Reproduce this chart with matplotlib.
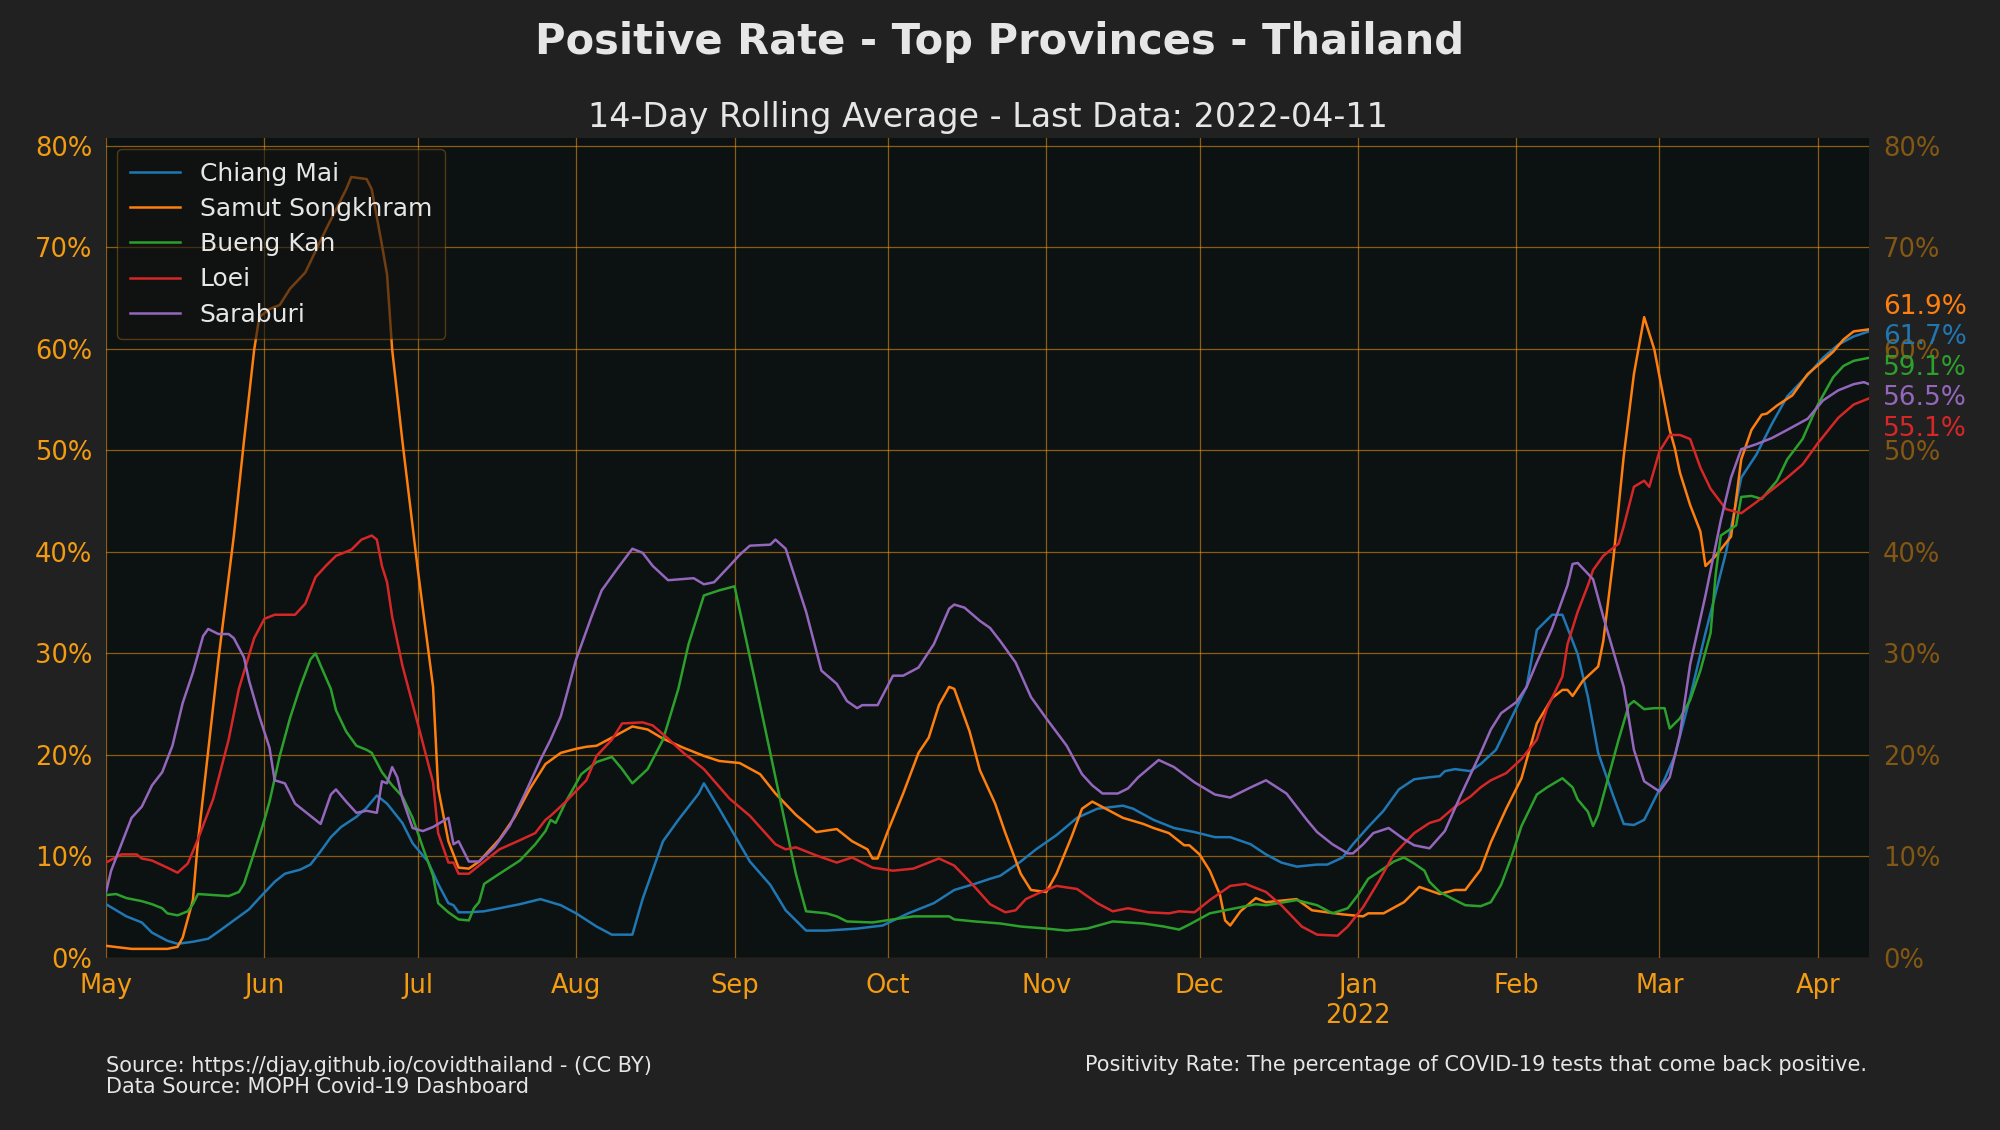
import numpy as np
import matplotlib
matplotlib.use("Agg")
import matplotlib.pyplot as plt
import matplotlib.transforms as mtransforms

# ---------------- data (day offsets from 2021-05-01, values in %) ----------------
start_date = "2021-05-01"
end_date = "2022-04-11"

chiang_mai_days = [0, 4, 7, 9, 12, 14, 17, 20, 22, 25, 28, 30, 33, 35, 38, 40, 42, 44, 46, 49, 51, 53, 55, 58, 60, 63, 65, 67, 68, 69, 71, 74, 77, 81, 85, 89, 92, 96, 99, 103, 105, 109, 112, 116, 117, 120, 123, 126, 130, 133, 137, 141, 147, 152, 157, 162, 166, 170, 173, 175, 179, 182, 186, 190, 194, 199, 201, 205, 209, 213, 217, 220, 224, 227, 230, 233, 237, 239, 242, 244, 247, 250, 253, 256, 259, 261, 262, 264, 267, 269, 272, 275, 278, 280, 283, 285, 288, 290, 292, 295, 297, 299, 301, 305, 307, 310, 313, 317, 320, 323, 326, 329, 333, 336, 339, 342, 345]
chiang_mai = [5.3, 4.1, 3.5, 2.5, 1.7, 1.4, 1.6, 1.9, 2.6, 3.7, 4.8, 5.9, 7.5, 8.3, 8.7, 9.2, 10.5, 11.9, 12.9, 13.9, 14.8, 16.0, 15.2, 13.3, 11.3, 9.5, 7.3, 5.4, 5.2, 4.5, 4.5, 4.6, 4.9, 5.3, 5.8, 5.2, 4.4, 3.1, 2.3, 2.3, 5.8, 11.5, 13.6, 16.2, 17.2, 14.7, 12.1, 9.5, 7.2, 4.7, 2.7, 2.7, 2.9, 3.2, 4.4, 5.4, 6.7, 7.3, 7.8, 8.1, 9.5, 10.7, 12.1, 13.8, 14.7, 15.0, 14.7, 13.6, 12.8, 12.4, 11.9, 11.9, 11.2, 10.2, 9.4, 9.0, 9.2, 9.2, 9.9, 11.2, 12.9, 14.5, 16.6, 17.6, 17.8, 17.9, 18.4, 18.6, 18.4, 19.1, 20.5, 23.6, 26.7, 32.3, 33.8, 33.8, 29.9, 25.7, 20.2, 15.9, 13.2, 13.1, 13.6, 17.6, 19.9, 25.7, 32.0, 39.9, 47.3, 49.6, 52.6, 55.3, 57.4, 59.1, 60.4, 61.2, 61.7]

samut_songkhram_days = [0, 5, 12, 14, 15, 17, 18, 20, 22, 25, 27, 29, 30, 32, 34, 36, 39, 41, 43, 45, 47, 48, 51, 52, 54, 55, 56, 58, 61, 64, 65, 67, 69, 71, 73, 77, 80, 83, 86, 89, 92, 94, 96, 99, 103, 106, 109, 113, 117, 120, 124, 128, 131, 135, 139, 143, 146, 149, 150, 151, 153, 156, 159, 161, 163, 165, 166, 169, 171, 174, 176, 179, 181, 184, 186, 189, 191, 193, 196, 199, 203, 205, 208, 211, 212, 214, 216, 218, 219, 220, 222, 225, 227, 231, 233, 236, 239, 242, 246, 247, 250, 254, 257, 261, 264, 266, 269, 271, 274, 277, 280, 283, 285, 286, 287, 289, 292, 293, 295, 297, 299, 301, 303, 306, 307, 308, 310, 312, 313, 315, 318, 319, 320, 322, 324, 325, 327, 330, 333, 336, 338, 340, 342, 345]
samut_songkhram = [1.2, 0.9, 0.9, 1.1, 2.0, 5.7, 11.5, 20.4, 29.4, 41.5, 50.9, 59.9, 63.1, 63.9, 64.3, 65.9, 67.5, 69.6, 71.7, 73.7, 75.7, 76.9, 76.7, 75.7, 70.2, 67.3, 59.9, 50.9, 38.3, 26.7, 16.7, 11.5, 8.9, 8.8, 9.5, 11.7, 13.9, 16.7, 19.1, 20.2, 20.6, 20.8, 20.9, 21.7, 22.8, 22.5, 21.6, 20.7, 19.9, 19.4, 19.2, 18.1, 16.2, 14.1, 12.4, 12.7, 11.5, 10.7, 9.8, 9.8, 12.5, 16.2, 20.2, 21.7, 24.9, 26.7, 26.5, 22.3, 18.5, 15.2, 12.3, 8.3, 6.7, 6.5, 8.3, 12.0, 14.7, 15.4, 14.6, 13.8, 13.2, 12.8, 12.3, 11.1, 11.1, 10.2, 8.6, 6.2, 3.7, 3.2, 4.6, 5.9, 5.5, 5.7, 5.8, 4.7, 4.5, 4.3, 4.1, 4.4, 4.4, 5.5, 7.0, 6.3, 6.7, 6.7, 8.7, 11.4, 14.7, 17.7, 23.1, 25.6, 26.4, 26.4, 25.8, 27.3, 28.7, 31.2, 39.4, 49.4, 57.5, 63.1, 59.9, 52.0, 50.2, 47.8, 44.6, 42.0, 38.6, 39.6, 41.5, 45.2, 49.1, 52.0, 53.5, 53.6, 54.4, 55.4, 57.5, 58.8, 59.7, 60.9, 61.7, 61.9]

bueng_kan_days = [0, 2, 4, 7, 9, 11, 12, 14, 16, 17, 18, 21, 24, 26, 27, 29, 31, 32, 34, 36, 38, 40, 41, 42, 44, 45, 47, 49, 51, 52, 54, 56, 58, 60, 62, 64, 65, 67, 69, 71, 72, 73, 74, 77, 81, 84, 86, 87, 88, 90, 93, 96, 99, 101, 103, 106, 109, 112, 114, 117, 120, 123, 127, 131, 135, 137, 141, 143, 145, 150, 154, 158, 165, 166, 170, 175, 179, 184, 188, 192, 197, 203, 207, 210, 212, 216, 221, 225, 227, 233, 237, 240, 243, 245, 247, 250, 252, 254, 256, 258, 259, 261, 264, 266, 269, 271, 273, 275, 277, 280, 282, 285, 287, 288, 290, 291, 292, 294, 296, 298, 299, 301, 303, 305, 306, 308, 310, 312, 314, 315, 316, 319, 320, 322, 324, 327, 329, 332, 335, 338, 340, 342, 345]
bueng_kan = [6.2, 6.3, 5.9, 5.6, 5.3, 4.9, 4.4, 4.2, 4.6, 5.3, 6.3, 6.2, 6.1, 6.5, 7.3, 10.4, 13.6, 15.4, 19.9, 23.6, 26.7, 29.4, 30.0, 28.8, 26.5, 24.4, 22.3, 20.9, 20.5, 20.2, 18.3, 17.0, 15.9, 13.8, 10.9, 8.1, 5.4, 4.5, 3.8, 3.7, 4.9, 5.5, 7.3, 8.3, 9.6, 11.2, 12.5, 13.6, 13.3, 15.4, 18.1, 19.3, 19.8, 18.6, 17.2, 18.6, 21.5, 26.5, 30.9, 35.7, 36.2, 36.6, 27.3, 17.8, 8.3, 4.6, 4.4, 4.1, 3.6, 3.5, 3.8, 4.1, 4.1, 3.8, 3.6, 3.4, 3.1, 2.9, 2.7, 2.9, 3.6, 3.4, 3.1, 2.8, 3.3, 4.4, 4.9, 5.3, 5.2, 5.7, 5.2, 4.4, 4.9, 6.2, 7.8, 8.8, 9.5, 9.9, 9.3, 8.6, 7.5, 6.5, 5.7, 5.2, 5.1, 5.5, 7.2, 9.9, 13.0, 16.1, 16.8, 17.7, 16.8, 15.6, 14.4, 13.0, 14.1, 17.8, 21.5, 24.9, 25.3, 24.5, 24.6, 24.6, 22.6, 23.6, 25.4, 28.3, 32.0, 37.8, 41.6, 42.6, 45.4, 45.5, 45.2, 47.0, 49.1, 51.1, 54.5, 57.2, 58.3, 58.8, 59.1]

loei_days = [0, 3, 6, 7, 9, 12, 14, 16, 18, 21, 24, 26, 29, 31, 33, 37, 39, 41, 43, 45, 48, 50, 52, 53, 54, 55, 56, 58, 61, 64, 65, 67, 68, 69, 71, 73, 77, 81, 84, 86, 87, 90, 94, 96, 99, 101, 105, 107, 110, 113, 117, 122, 126, 131, 133, 135, 139, 143, 146, 150, 154, 158, 163, 166, 170, 173, 176, 178, 180, 183, 186, 190, 194, 197, 200, 204, 208, 210, 213, 216, 220, 223, 227, 230, 234, 237, 241, 243, 246, 249, 252, 256, 259, 261, 264, 267, 269, 271, 274, 277, 280, 282, 285, 286, 288, 290, 291, 293, 296, 297, 299, 301, 302, 304, 306, 308, 310, 312, 314, 317, 320, 323, 325, 329, 332, 335, 339, 342, 345]
loei = [9.4, 10.2, 10.2, 9.8, 9.6, 8.9, 8.4, 9.3, 11.7, 15.7, 21.5, 26.5, 31.5, 33.4, 33.8, 33.8, 34.9, 37.5, 38.6, 39.6, 40.2, 41.2, 41.6, 41.2, 38.6, 37.0, 33.6, 28.8, 23.1, 17.3, 12.3, 9.4, 9.4, 8.3, 8.3, 9.1, 10.7, 11.6, 12.3, 13.6, 14.0, 15.4, 17.5, 19.9, 21.5, 23.1, 23.2, 22.9, 21.6, 20.2, 18.6, 15.7, 14.0, 11.2, 10.7, 10.9, 10.1, 9.4, 9.9, 8.9, 8.6, 8.8, 9.8, 9.1, 7.0, 5.3, 4.5, 4.7, 5.8, 6.5, 7.1, 6.8, 5.4, 4.6, 4.9, 4.5, 4.4, 4.6, 4.5, 5.7, 7.1, 7.3, 6.5, 5.2, 3.1, 2.3, 2.2, 3.1, 5.0, 7.5, 10.2, 12.3, 13.3, 13.6, 14.9, 15.9, 16.8, 17.5, 18.2, 19.6, 21.5, 24.6, 27.7, 30.9, 34.1, 36.7, 38.2, 39.6, 40.8, 42.5, 46.4, 47.0, 46.4, 49.9, 51.5, 51.5, 51.1, 48.3, 46.2, 44.2, 43.8, 44.9, 45.7, 47.3, 48.6, 50.7, 53.2, 54.5, 55.1]

saraburi_days = [0, 1, 3, 5, 7, 9, 11, 13, 15, 17, 19, 20, 22, 24, 25, 27, 28, 30, 32, 33, 35, 37, 40, 42, 44, 45, 47, 49, 51, 53, 54, 55, 56, 57, 58, 60, 62, 64, 67, 68, 69, 71, 73, 76, 79, 82, 85, 87, 89, 92, 95, 97, 100, 103, 105, 107, 110, 115, 117, 119, 122, 124, 126, 130, 131, 133, 137, 140, 143, 145, 147, 148, 151, 154, 156, 159, 162, 165, 166, 168, 171, 173, 175, 178, 181, 184, 188, 191, 193, 195, 198, 200, 202, 206, 209, 213, 217, 220, 224, 227, 231, 235, 237, 240, 243, 244, 246, 248, 251, 254, 256, 259, 262, 265, 269, 271, 273, 276, 278, 280, 283, 286, 287, 288, 291, 293, 297, 299, 301, 304, 306, 308, 310, 313, 316, 318, 320, 323, 326, 329, 333, 336, 339, 342, 344, 345]
saraburi = [6.5, 8.6, 11.2, 13.8, 14.9, 17.0, 18.3, 20.9, 25.1, 28.1, 31.7, 32.4, 31.9, 31.9, 31.5, 29.6, 27.3, 23.8, 20.7, 17.5, 17.2, 15.2, 14.0, 13.2, 16.1, 16.6, 15.4, 14.3, 14.5, 14.3, 17.4, 17.2, 18.8, 17.8, 15.7, 12.8, 12.5, 12.9, 13.8, 11.2, 11.5, 9.5, 9.5, 10.9, 13.0, 16.2, 19.5, 21.5, 23.8, 29.4, 33.6, 36.2, 38.3, 40.3, 39.9, 38.6, 37.2, 37.4, 36.8, 37.0, 38.6, 39.7, 40.6, 40.7, 41.2, 40.3, 34.1, 28.3, 27.0, 25.3, 24.6, 24.9, 24.9, 27.8, 27.8, 28.6, 30.9, 34.4, 34.8, 34.5, 33.2, 32.5, 31.2, 29.1, 25.7, 23.6, 20.9, 18.1, 17.0, 16.2, 16.2, 16.7, 17.8, 19.5, 18.8, 17.3, 16.1, 15.8, 16.8, 17.5, 16.2, 13.6, 12.4, 11.2, 10.3, 10.3, 11.2, 12.3, 12.8, 11.7, 11.1, 10.8, 12.5, 15.9, 20.2, 22.5, 24.1, 25.2, 26.7, 29.1, 32.5, 36.7, 38.8, 38.9, 37.3, 33.6, 26.7, 20.5, 17.4, 16.4, 17.8, 22.0, 28.9, 35.7, 43.1, 47.3, 50.1, 50.6, 51.2, 52.0, 53.1, 54.9, 55.9, 56.5, 56.7, 56.5]

provinces = ["Chiang Mai", "Samut Songkhram", "Bueng Kan", "Loei", "Saraburi"]
series_days = [chiang_mai_days, samut_songkhram_days, bueng_kan_days, loei_days, saraburi_days]
series_vals = [chiang_mai, samut_songkhram, bueng_kan, loei, saraburi]
line_colors = ["#1f77b4", "#ff7f0e", "#2ca02c", "#d62728", "#9467bd"]

month_labels = ["May", "Jun", "Jul", "Aug", "Sep", "Oct", "Nov", "Dec", "Jan\n2022", "Feb", "Mar", "Apr"]
month_starts = ["2021-05-01", "2021-06-01", "2021-07-01", "2021-08-01", "2021-09-01", "2021-10-01",
                "2021-11-01", "2021-12-01", "2022-01-01", "2022-02-01", "2022-03-01", "2022-04-01"]
y_ticks = [0, 10, 20, 30, 40, 50, 60, 70, 80]

title = "Positive Rate - Top Provinces - Thailand"
subtitle = "14-Day Rolling Average - Last Data: 2022-04-11"
source_text = "Source: https://djay.github.io/covidthailand - (CC BY)\nData Source: MOPH Covid-19 Dashboard"
note_text = "Positivity Rate: The percentage of COVID-19 tests that come back positive."

# ---------------- style ----------------
FIG_BG = "#212121"
AX_BG = "#0c1111"
ORANGE = "#f39c12"
ORANGE_DIM = "#835812"
TEXT = "#e6e6e6"

AX_LEFT, AX_BOTTOM, AX_W, AX_H = 0.053, 0.1522, 0.8815, 0.7257
fig = plt.figure(figsize=(20, 11.3), dpi=100, facecolor=FIG_BG)
ax = fig.add_axes([AX_LEFT, AX_BOTTOM, AX_W, AX_H])
ax.set_facecolor(AX_BG)

base = np.datetime64(start_date)
for name, d, v, c in zip(provinces, series_days, series_vals, line_colors):
    x = base + np.array(d).astype("timedelta64[D]")
    ax.plot(x, np.array(v) / 100.0, color=c, lw=1.8, label=name, zorder=3)

ymax = max(max(v) for v in series_vals) / 100.0 * 1.05
ax.set_ylim(0, ymax)
ax.set_xlim(np.datetime64(start_date), np.datetime64(end_date))

ticks = [np.datetime64(m) for m in month_starts]
ax.set_xticks(ticks)
ax.set_xticklabels(month_labels)
ax.set_yticks([t / 100 for t in y_ticks])
ax.set_yticklabels([f"{t}%" for t in y_ticks])
ax.tick_params(axis="x", colors=ORANGE, labelsize=18.5, length=0, pad=11)
ax.tick_params(axis="y", colors=ORANGE, labelsize=18.5, length=0, pad=10)
ax.grid(True, color=ORANGE, alpha=0.55, lw=0.9)
for s in ax.spines.values():
    s.set_visible(False)

ax2 = ax.twinx()
ax2.set_ylim(ax.get_ylim())
ax2.set_yticks([t / 100 for t in y_ticks])
ax2.set_yticklabels([f"{t}%" for t in y_ticks])
ax2.tick_params(axis="y", colors=ORANGE_DIM, labelsize=18.5, length=0, pad=10)
for s in ax2.spines.values():
    s.set_visible(False)

leg = ax.legend(loc="upper left", fontsize=18, fancybox=True, borderaxespad=0.45,
                labelspacing=0.45, handlelength=2.0, handletextpad=0.8, borderpad=0.5)
frame = leg.get_frame()
frame.set_alpha(None)
frame.set_facecolor((0.08, 0.08, 0.08, 0.6))
frame.set_edgecolor((0.95, 0.61, 0.07, 0.3))
for t in leg.get_texts():
    t.set_color(TEXT)
leg.set_zorder(5)

# end labels with simple de-overlap
last_vals = [v[-1] for v in series_vals]
order = np.argsort(last_vals)[::-1]
gap = 3.0
pos = {}
prev = None
for i in order:
    p = last_vals[i] if prev is None else min(last_vals[i], prev - gap)
    pos[i] = p
    prev = p
shift = np.mean(last_vals) - np.mean(list(pos.values())) - 0.75
trans = mtransforms.blended_transform_factory(ax.transAxes, ax.transData)
for i in range(len(provinces)):
    ax2.annotate(f"{last_vals[i]:.1f}%", xy=(1.0, (pos[i] + shift) / 100), xycoords=trans,
                 xytext=(10, 0), textcoords="offset points", va="center", ha="left",
                 color=line_colors[i], fontsize=19, annotation_clip=False, zorder=10)

fig.text(0.5, 0.963, title, ha="center", va="center", fontsize=30, fontweight="bold", color=TEXT)
fig.text(AX_LEFT + AX_W / 2, 0.896, subtitle, ha="center", va="center", fontsize=24, color=TEXT)
fig.text(0.053, 0.0472, source_text, ha="left", va="center", fontsize=15, color=TEXT, linespacing=1.1)
fig.text(0.9335, 0.0575, note_text, ha="right", va="center", fontsize=15, color=TEXT)

fig.savefig("out.png", dpi=100, facecolor=FIG_BG)
